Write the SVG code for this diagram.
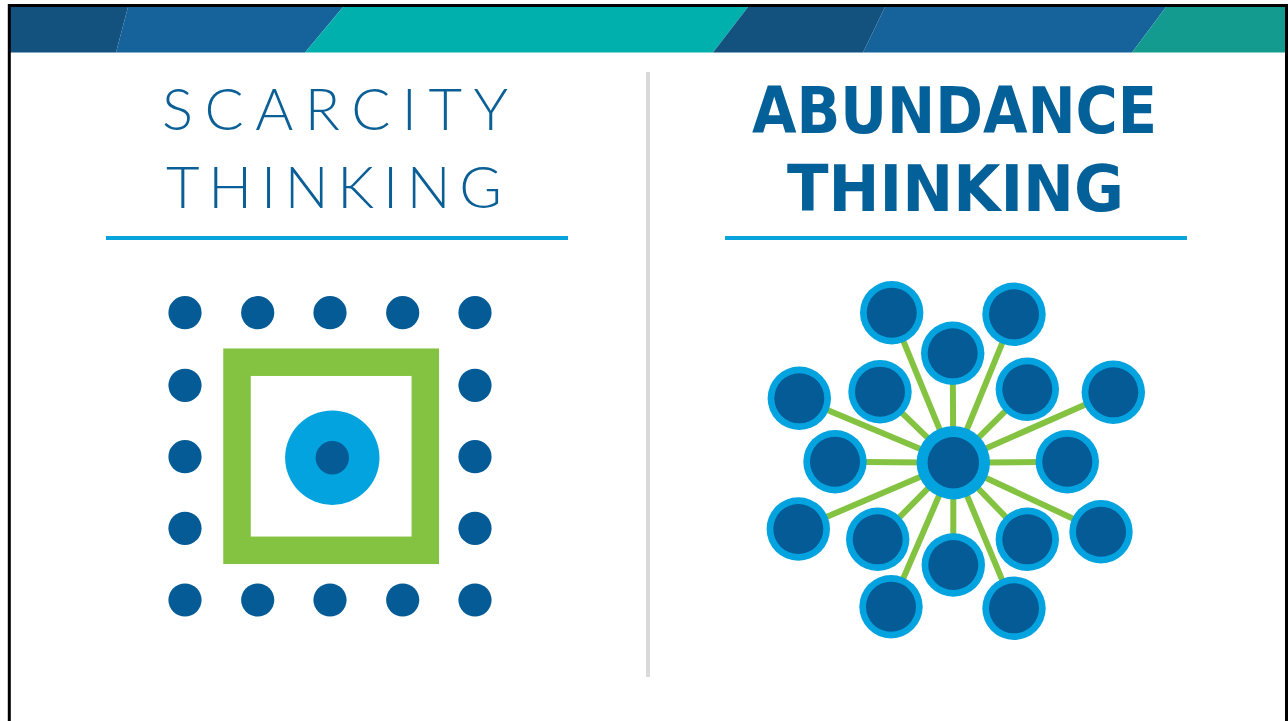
<svg xmlns="http://www.w3.org/2000/svg" width="1288" height="721" viewBox="0 0 1288 721">
<style>
.thin{font-family:Lato,"Open Sans","Liberation Sans",sans-serif;font-weight:300;font-size:58px;fill:#0b5f97}
.bold{font-family:"DejaVu Sans Condensed","DejaVu Sans","Liberation Sans",sans-serif;font-weight:bold;font-stretch:condensed;font-size:64px;fill:#046098}
.rule{fill:#08a2dc}
.dot{fill:#045b96}
.edge{stroke:#84c341;stroke-width:6}
.ring{fill:#03a3df}
.core{fill:#045b96}
</style>
<defs>
<g id="node"><circle r="31.7" class="ring"/><circle r="25" class="core"/></g>
</defs>
<rect width="1288" height="721" fill="#ffffff"/>
<g id="banner">
<polygon points="10,7 128,7 116,52.5 10,52.5" fill="#13527f"/>
<polygon points="128,7 343,7 305,52.5 116,52.5" fill="#16639b"/>
<polygon points="343,7 748,7 713,52.5 305,52.5" fill="#00b0ad"/>
<polygon points="748,7 885,7 863,52.5 713,52.5" fill="#13527f"/>
<polygon points="885,7 1166,7 1132,52.5 863,52.5" fill="#16639b"/>
<polygon points="1166,7 1286,7 1286,52.5 1132,52.5" fill="#139b8f"/>
</g>
<path id="frame" d="M9.3,721 V5.5 H1286.5 V721" fill="none" stroke="#000000" stroke-width="3"/>
<rect id="divider" x="646" y="72" width="4" height="605" fill="#d9d9d9"/>
<g id="scarcity-title">
<text class="thin" x="162" y="130" textLength="346" lengthAdjust="spacing">SCARCITY</text>
<text class="thin" x="166" y="208" textLength="336" lengthAdjust="spacing">THINKING</text>
<rect class="rule" x="106" y="236" width="462" height="4"/>
</g>
<g id="abundance-title">
<text class="bold" x="752" y="133" textLength="405" lengthAdjust="spacingAndGlyphs">ABUNDANCE</text>
<text class="bold" x="787" y="211" textLength="337" lengthAdjust="spacingAndGlyphs">THINKING</text>
<rect class="rule" x="725" y="236" width="462" height="4"/>
</g>
<g id="scarcity-dots">
<circle class="dot" cx="185" cy="312.7" r="16.6"/>
<circle class="dot" cx="257.7" cy="312.7" r="16.6"/>
<circle class="dot" cx="330" cy="312.7" r="16.6"/>
<circle class="dot" cx="402.7" cy="312.7" r="16.6"/>
<circle class="dot" cx="475" cy="312.7" r="16.6"/>
<circle class="dot" cx="185" cy="385.3" r="16.6"/>
<circle class="dot" cx="475" cy="385.3" r="16.6"/>
<circle class="dot" cx="185" cy="456.7" r="16.6"/>
<circle class="dot" cx="475" cy="456.7" r="16.6"/>
<circle class="dot" cx="185" cy="528.3" r="16.6"/>
<circle class="dot" cx="475" cy="528.3" r="16.6"/>
<circle class="dot" cx="185" cy="600" r="16.6"/>
<circle class="dot" cx="257.7" cy="600" r="16.6"/>
<circle class="dot" cx="330" cy="600" r="16.6"/>
<circle class="dot" cx="402.7" cy="600" r="16.6"/>
<circle class="dot" cx="475" cy="600" r="16.6"/>
</g>
<g id="scarcity-box">
<rect x="237" y="362.2" width="188.3" height="188.1" fill="none" stroke="#84c341" stroke-width="27.5"/>
</g>
<g id="scarcity-core">
<circle cx="332.3" cy="457.7" r="47.2" fill="#03a3df"/>
<circle cx="332.3" cy="457.7" r="16.7" fill="#045b96"/>
</g>
<g id="connectors">
<line class="edge" x1="953.3" y1="462.7" x2="891.7" y2="312.7"/>
<line class="edge" x1="953.3" y1="462.7" x2="1014" y2="314.3"/>
<line class="edge" x1="953.3" y1="462.7" x2="952.7" y2="353.3"/>
<line class="edge" x1="953.3" y1="462.7" x2="880" y2="391.7"/>
<line class="edge" x1="953.3" y1="462.7" x2="1027.3" y2="389.3"/>
<line class="edge" x1="953.3" y1="462.7" x2="799.3" y2="398.3"/>
<line class="edge" x1="953.3" y1="462.7" x2="1113.3" y2="392.3"/>
<line class="edge" x1="953.3" y1="462.7" x2="835" y2="461.7"/>
<line class="edge" x1="953.3" y1="462.7" x2="1067.3" y2="461.7"/>
<line class="edge" x1="953.3" y1="462.7" x2="798.3" y2="529"/>
<line class="edge" x1="953.3" y1="462.7" x2="877.7" y2="539.3"/>
<line class="edge" x1="953.3" y1="462.7" x2="953.3" y2="565"/>
<line class="edge" x1="953.3" y1="462.7" x2="1027.3" y2="539.3"/>
<line class="edge" x1="953.3" y1="462.7" x2="1101" y2="531.7"/>
<line class="edge" x1="953.3" y1="462.7" x2="891" y2="606.7"/>
<line class="edge" x1="953.3" y1="462.7" x2="1014" y2="608.3"/>
</g>
<g id="hub"><circle cx="953.3" cy="462.7" r="36.7" class="ring"/><circle cx="953.3" cy="462.7" r="25.7" class="core"/></g>
<g id="n1"><use href="#node" x="891.7" y="312.7"/></g>
<g id="n2"><use href="#node" x="1014" y="314.3"/></g>
<g id="n3"><use href="#node" x="952.7" y="353.3"/></g>
<g id="n4"><use href="#node" x="880" y="391.7"/></g>
<g id="n5"><use href="#node" x="1027.3" y="389.3"/></g>
<g id="n6"><use href="#node" x="799.3" y="398.3"/></g>
<g id="n7"><use href="#node" x="1113.3" y="392.3"/></g>
<g id="n8"><use href="#node" x="835" y="461.7"/></g>
<g id="n9"><use href="#node" x="1067.3" y="461.7"/></g>
<g id="n10"><use href="#node" x="798.3" y="529"/></g>
<g id="n11"><use href="#node" x="877.7" y="539.3"/></g>
<g id="n12"><use href="#node" x="953.3" y="565"/></g>
<g id="n13"><use href="#node" x="1027.3" y="539.3"/></g>
<g id="n14"><use href="#node" x="1101" y="531.7"/></g>
<g id="n15"><use href="#node" x="891" y="606.7"/></g>
<g id="n16"><use href="#node" x="1014" y="608.3"/></g>
</svg>
